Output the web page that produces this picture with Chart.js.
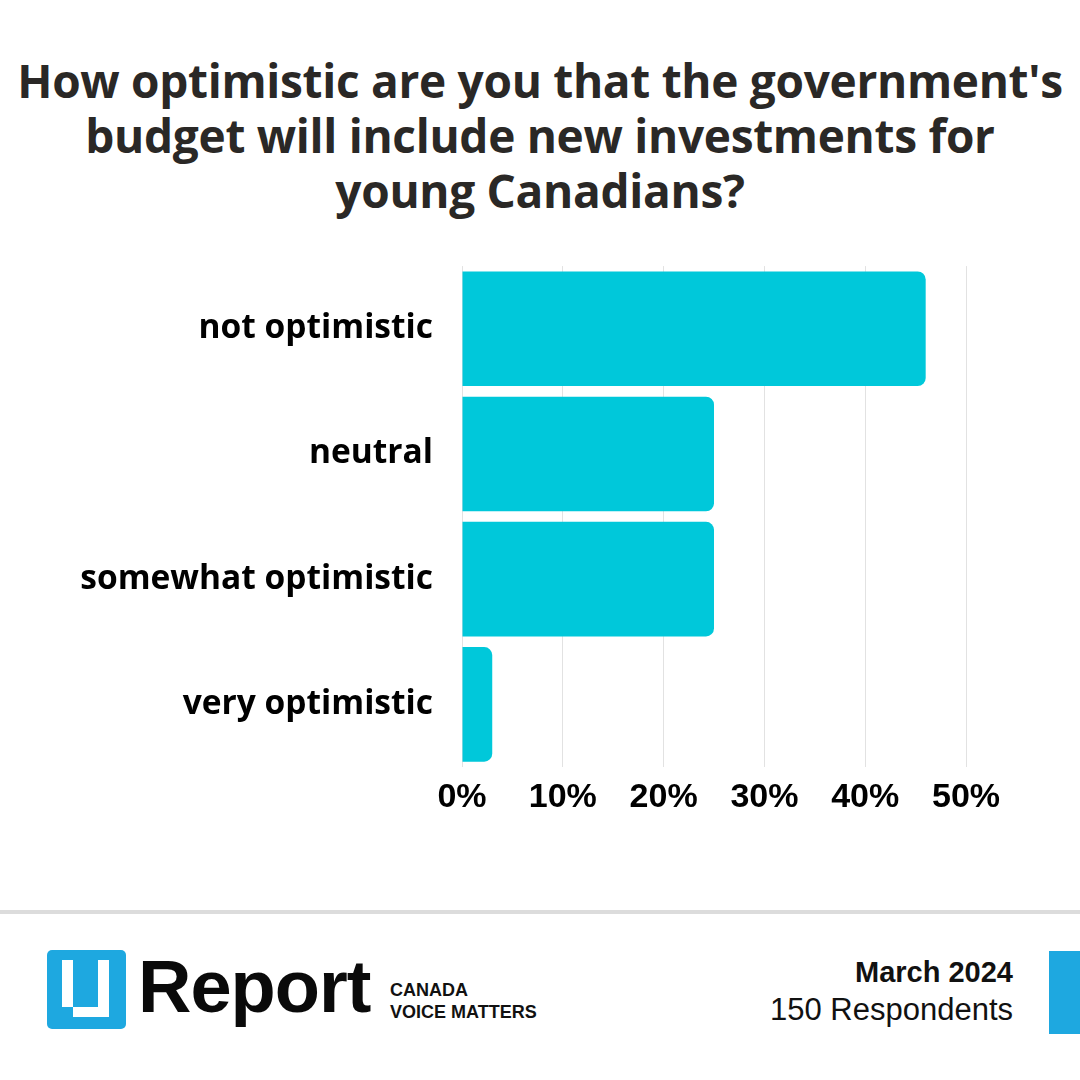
<!DOCTYPE html>
<html>
<head>
<meta charset="utf-8">
<script src="https://cdn.jsdelivr.net/npm/chart.js@4/dist/chart.umd.min.js"></script>
<style>
  html, body { margin: 0; padding: 0; background: #ffffff; }
  #page { position: relative; width: 1080px; height: 1080px; overflow: hidden; background: #fff; }
  #title { position: absolute; left: 0; top: 53px; width: 1080px; text-align: center;
    font-family: "Open Sans", "Liberation Sans", Arial, sans-serif; font-weight: 700; font-size: 46px;
    line-height: 55px; color: #2a2826; letter-spacing: -0.3px; white-space: nowrap; }
  #chartBox { position: absolute; left: 0; top: 246px; width: 1080px; height: 614px; }
  #rule { position: absolute; left: 0; top: 910px; width: 1080px; height: 4px; background: #dcdcdc; }
  #logo { position: absolute; left: 47px; top: 950px; width: 79px; height: 79px; background: #1ea8e0; border-radius: 5px; }
  .w { position: absolute; background: #fff; }
  #report { position: absolute; left: 138px; top: 942px; font-family: "Liberation Sans", Arial, sans-serif;
    font-weight: 700; font-size: 74px; letter-spacing: -1px; color: #0a0a0a; line-height: 90px; }
  #canada { position: absolute; left: 390px; top: 979px; font-family: "Liberation Sans", Arial, sans-serif;
    font-weight: 700; font-size: 18px; line-height: 22px; color: #111; letter-spacing: 0px; }
  #date { position: absolute; right: 67px; top: 953px; text-align: right; font-family: "Liberation Sans", Arial, sans-serif;
    color: #111; }
  #date .b { font-weight: 700; font-size: 29px; line-height: 38px; }
  #date .r { font-weight: 400; font-size: 31px; line-height: 38px; }
  #blueBar { position: absolute; left: 1049px; top: 951px; width: 31px; height: 83px; background: #1ea8e0; }
</style>
</head>
<body>
<div id="page">
  <div id="title">How optimistic are you that the government's<br>budget will include new investments for<br>young Canadians?</div>
  <div id="chartBox"><canvas id="c"></canvas></div>
  <div id="rule"></div>
  <div id="logo">
    <div class="w" style="left:15px;top:10px;width:11px;height:47px;"></div>
    <div class="w" style="left:26px;top:57px;width:36px;height:10px;"></div>
    <div class="w" style="left:51px;top:10px;width:11px;height:57px;"></div>
  </div>
  <div id="report">Report</div>
  <div id="canada">CANADA<br>VOICE MATTERS</div>
  <div id="date"><div class="b">March 2024</div><div class="r">150 Respondents</div></div>
  <div id="blueBar"></div>
</div>
<script>
const categories = ["not optimistic", "neutral", "somewhat optimistic", "very optimistic"];
const percentValues = [46, 25, 25, 3];
const tickValues = [0, 10, 20, 30, 40, 50];

const ctx = document.getElementById('c');
new Chart(ctx, {
  type: 'bar',
  data: {
    labels: categories,
    datasets: [{
      data: percentValues,
      backgroundColor: '#00c8da',
      borderRadius: 8,
      barPercentage: 0.915,
      categoryPercentage: 1.0
    }]
  },
  options: {
    indexAxis: 'y',
    responsive: true,
    maintainAspectRatio: false,
    animation: false,
    layout: { padding: { top: 0, right: 114, bottom: 0, left: 0 } },
    plugins: { legend: { display: false }, tooltip: { enabled: false }, title: { display: false } },
    scales: {
      x: {
        min: 0, max: 50,
        afterBuildTicks: (s) => { s.ticks = tickValues.map(v => ({ value: v })); },
        afterFit: (s) => { s.height = 93; },
        grid: { color: '#e2e2e2', lineWidth: 1, drawTicks: false },
        border: { display: false },
        ticks: {
          padding: 10,
          color: '#000',
          font: { family: '"Liberation Sans", Arial, sans-serif', size: 34, weight: 'bold' },
          callback: (v) => v + '%'
        }
      },
      y: {
        afterFit: (s) => { s.width = 462; },
        grid: { display: false, drawTicks: true, tickLength: 29 },
        border: { display: false },
        ticks: {
          padding: 0,
          color: '#000',
          font: { family: '"Open Sans", "Liberation Sans", Arial, sans-serif', size: 33.5, weight: 'bold' }
        }
      }
    }
  }
});
</script>
</body>
</html>
